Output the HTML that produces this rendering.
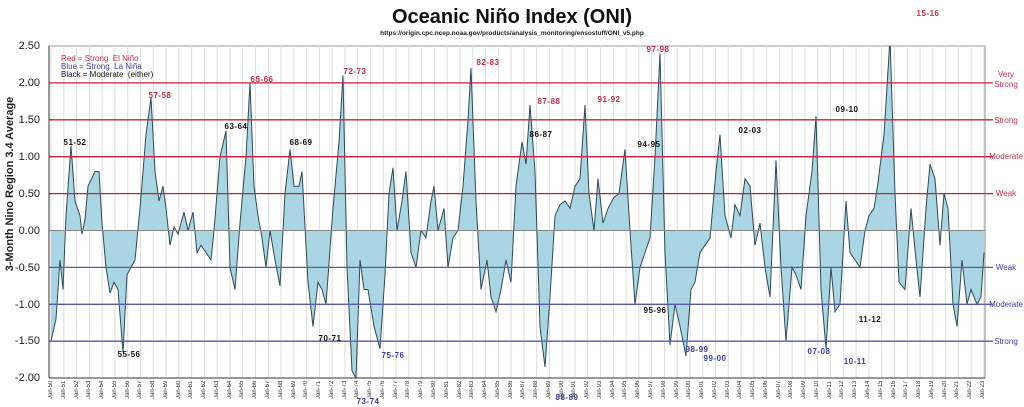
<!DOCTYPE html>
<html><head><meta charset="utf-8"><style>
body{margin:0;background:#fff;font-family:"Liberation Sans",Arial,sans-serif;}
#c{position:relative;width:1024px;height:407px;overflow:hidden;background:#fff}
.t{position:absolute;white-space:nowrap}
.a{position:absolute;font-size:8px;font-weight:bold;transform:translateX(-50%);white-space:nowrap;letter-spacing:0.5px}
.r{color:#c0304a}.b{color:#3c3ca0}.k{color:#111}
.yl{position:absolute;right:984px;font-size:11px;color:#222;transform:translateY(-50%)}
#xl{position:absolute;left:47px;top:381px;width:941px;height:26px;display:flex;justify-content:space-between}
#xl span{width:8px;font-size:6px;color:#333;writing-mode:vertical-rl;transform:rotate(180deg);text-align:right;line-height:8px}
.rl{position:absolute;font-size:8px;left:988px;transform:translateY(-50%);text-align:center;width:36px;line-height:10px}
</style></head><body><div id="c">
<div class="t" style="left:0;width:1024px;top:6px;text-align:center;font-size:20px;font-weight:bold;color:#111">Oceanic Niño Index (ONI)</div>
<div class="t" style="left:380px;width:264px;top:30px;text-align:center;font-size:6.5px;font-weight:bold;color:#222">https://origin.cpc.ncep.noaa.gov/products/analysis_monitoring/ensostuff/ONI_v5.php</div>
<div class="t" style="left:-80px;top:178px;width:180px;text-align:center;transform:rotate(-90deg);font-size:11px;font-weight:bold;color:#222">3-Month Nino Region 3.4 Average</div>
<svg id="s" width="1024" height="407" style="position:absolute;left:0;top:0"></svg>
<div class="yl" style="top:46px">2.50</div><div class="yl" style="top:83px">2.00</div><div class="yl" style="top:120px">1.50</div><div class="yl" style="top:157px">1.00</div><div class="yl" style="top:194px">0.50</div><div class="yl" style="top:231px">0.00</div><div class="yl" style="top:268px">-0.50</div><div class="yl" style="top:305px">-1.00</div><div class="yl" style="top:341px">-1.50</div><div class="yl" style="top:378px">-2.00</div>
<div class="t r" style="left:61px;top:54px;font-size:8px">Red = Strong&nbsp; El Niño</div>
<div class="t b" style="left:61px;top:62px;font-size:8px">Blue = Strong&nbsp; La Niña</div>
<div class="t k" style="left:61px;top:70px;font-size:8px">Black = Moderate&nbsp; (either)</div>
<div class="rl r" style="top:80px">Very<br>Strong</div>
<div class="rl r" style="top:121px">Strong</div>
<div class="rl r" style="top:157px">Moderate</div>
<div class="rl r" style="top:194px">Weak</div>
<div class="rl b" style="top:268px">Weak</div>
<div class="rl b" style="top:305px">Moderate</div>
<div class="rl b" style="top:342px">Strong</div>
<div class="a k" style="left:75px;top:138px">51-52</div>
<div class="a r" style="left:160px;top:91px">57-58</div>
<div class="a r" style="left:262px;top:75px">65-66</div>
<div class="a k" style="left:236px;top:122px">63-64</div>
<div class="a k" style="left:301px;top:138px">68-69</div>
<div class="a r" style="left:355px;top:67px">72-73</div>
<div class="a k" style="left:330px;top:334px">70-71</div>
<div class="a k" style="left:129px;top:350px">55-56</div>
<div class="a b" style="left:368px;top:397px">73-74</div>
<div class="a b" style="left:393px;top:351px">75-76</div>
<div class="a r" style="left:488px;top:58px">82-83</div>
<div class="a r" style="left:549px;top:97px">87-88</div>
<div class="a k" style="left:541px;top:130px">86-87</div>
<div class="a r" style="left:609px;top:95px">91-92</div>
<div class="a r" style="left:658px;top:45px">97-98</div>
<div class="a k" style="left:649px;top:140px">94-95</div>
<div class="a k" style="left:655px;top:306px">95-96</div>
<div class="a b" style="left:567px;top:393px">88-89</div>
<div class="a b" style="left:697px;top:345px">98-99</div>
<div class="a b" style="left:715px;top:354px">99-00</div>
<div class="a k" style="left:750px;top:126px">02-03</div>
<div class="a k" style="left:847px;top:105px">09-10</div>
<div class="a r" style="left:928px;top:9px">15-16</div>
<div class="a b" style="left:819px;top:347px">07-08</div>
<div class="a b" style="left:855px;top:357px">10-11</div>
<div class="a k" style="left:870px;top:315px">11-12</div>
<div id="xl"><span>Jan-50</span><span>Jan-51</span><span>Jan-52</span><span>Jan-53</span><span>Jan-54</span><span>Jan-55</span><span>Jan-56</span><span>Jan-57</span><span>Jan-58</span><span>Jan-59</span><span>Jan-60</span><span>Jan-61</span><span>Jan-62</span><span>Jan-63</span><span>Jan-64</span><span>Jan-65</span><span>Jan-66</span><span>Jan-67</span><span>Jan-68</span><span>Jan-69</span><span>Jan-70</span><span>Jan-71</span><span>Jan-72</span><span>Jan-73</span><span>Jan-74</span><span>Jan-75</span><span>Jan-76</span><span>Jan-77</span><span>Jan-78</span><span>Jan-79</span><span>Jan-80</span><span>Jan-81</span><span>Jan-82</span><span>Jan-83</span><span>Jan-84</span><span>Jan-85</span><span>Jan-86</span><span>Jan-87</span><span>Jan-88</span><span>Jan-89</span><span>Jan-90</span><span>Jan-91</span><span>Jan-92</span><span>Jan-93</span><span>Jan-94</span><span>Jan-95</span><span>Jan-96</span><span>Jan-97</span><span>Jan-98</span><span>Jan-99</span><span>Jan-00</span><span>Jan-01</span><span>Jan-02</span><span>Jan-03</span><span>Jan-04</span><span>Jan-05</span><span>Jan-06</span><span>Jan-07</span><span>Jan-08</span><span>Jan-09</span><span>Jan-10</span><span>Jan-11</span><span>Jan-12</span><span>Jan-13</span><span>Jan-14</span><span>Jan-15</span><span>Jan-16</span><span>Jan-17</span><span>Jan-18</span><span>Jan-19</span><span>Jan-20</span><span>Jan-21</span><span>Jan-22</span><span>Jan-23</span></div>
</div>
<script>
var d=[51,-1.5,56,-1.2,60,-0.4,63,-0.8,66,0.2,71,1.15,75,0.4,80,0.2,82,-0.05,85,0.15,88,0.6,95,0.8,99,0.8,102,0.1,106,-0.5,110,-0.85,114,-0.7,118,-0.8,123,-1.65,127,-0.6,131,-0.5,135,-0.4,140,0.3,146,1.3,151,1.8,155,0.8,159,0.4,163,0.6,166,0.3,170,-0.2,174,0.05,178,-0.05,184,0.25,188,0,193,0.25,197,-0.3,201,-0.2,206,-0.3,211,-0.4,214,0,220,1.0,226,1.35,230,-0.5,235,-0.8,240,0.1,246,1.0,250,2.0,254,0.6,258,0.2,262,-0.1,266,-0.5,270,0,275,-0.4,280,-0.75,285,0.5,290,1.1,294,0.6,299,0.6,302,0.8,308,-0.7,313,-1.3,318,-0.7,322,-0.8,326,-1.0,333,0.3,339,1.2,343,2.1,347,-0.5,352,-1.9,356,-2.0,360,-0.4,364,-0.8,368,-0.8,374,-1.3,380,-1.6,385,-0.6,389,0.5,393,0.85,397,0,402,0.4,406,0.8,411,-0.3,416,-0.5,421,0,426,-0.1,431,0.4,434,0.6,438,0,444,0.3,448,-0.5,453,-0.1,458,0,463,0.6,468,1.5,471,2.2,476,0.4,481,-0.8,487,-0.4,491,-0.9,496,-1.1,501,-0.8,506,-0.4,511,-0.7,516,0.6,522,1.2,526,0.9,530,1.7,535,0.8,540,-1.3,545,-1.85,550,-0.9,555,0.2,560,0.35,565,0.4,570,0.3,575,0.6,580,0.7,585,1.7,589,0.5,594,0,598,0.7,603,0.1,608,0.3,614,0.45,619,0.5,625,1.1,630,0,635,-1.0,640,-0.5,645,-0.3,650,-0.1,655,1.0,660,2.4,665,-0.3,670,-1.55,675,-1.0,680,-1.3,686,-1.7,691,-0.8,695,-0.7,700,-0.3,705,-0.2,710,-0.1,716,0.8,720,1.3,725,0.2,731,-0.1,735,0.35,740,0.2,745,0.7,750,0.6,755,-0.2,760,0.1,765,-0.5,770,-0.9,776,0.95,781,-0.5,786,-1.5,792,-0.5,796,-0.6,801,-0.8,806,0.2,812,0.8,816,1.55,821,-0.8,826,-1.6,831,-0.5,835,-1.1,840,-1.0,846,0.4,850,-0.3,855,-0.4,860,-0.5,865,0,869,0.2,874,0.3,878,0.65,884,1.3,890,2.6,895,0.5,899,-0.7,905,-0.8,911,0.3,916,-0.4,920,-0.9,926,0.3,930,0.9,935,0.7,940,-0.2,944,0.5,948,0.3,953,-1.0,957,-1.3,962,-0.4,967,-1.0,971,-0.8,977,-1.0,981,-0.9,984,-0.3];
function Y(v){return 230.5-v*73.8}
var h='<defs><clipPath id="cp"><rect x="49" y="46" width="936" height="332"/></clipPath></defs>';
h+='<rect x="49" y="46" width="936" height="332" fill="#fff" stroke="#999" stroke-width="1"/>';
for(var i=0;i<74;i++){var x=51+i*12.78;h+='<line x1="'+x+'" y1="46" x2="'+x+'" y2="378" stroke="#ddd" stroke-width="1"/>';}
var pts='';for(var i=0;i<d.length;i+=2)pts+=d[i]+','+Y(d[i+1]).toFixed(1)+' ';
h+='<g clip-path="url(#cp)"><polygon points="51,230.5 '+pts+'984,230.5" fill="#a9d6e2"/><polyline points="'+pts+'" fill="none" stroke="#2e4a56" stroke-width="1"/></g>';
h+='<line x1="49" y1="230.5" x2="985" y2="230.5" stroke="#888" stroke-width="1"/>';
[2,1.5,1,0.5].forEach(function(v){h+='<line x1="49" y1="'+Y(v)+'" x2="993" y2="'+Y(v)+'" stroke="#c8203a" stroke-width="1.3"/>';});
[-0.5,-1,-1.5].forEach(function(v){h+='<line x1="49" y1="'+Y(v)+'" x2="993" y2="'+Y(v)+'" stroke="#5a5aa8" stroke-width="1.3"/>';});
h+='<line x1="49" y1="46" x2="49" y2="378" stroke="#333"/><line x1="49" y1="378" x2="985" y2="378" stroke="#333"/>';
document.getElementById('s').innerHTML=h;
</script>
</body></html>
